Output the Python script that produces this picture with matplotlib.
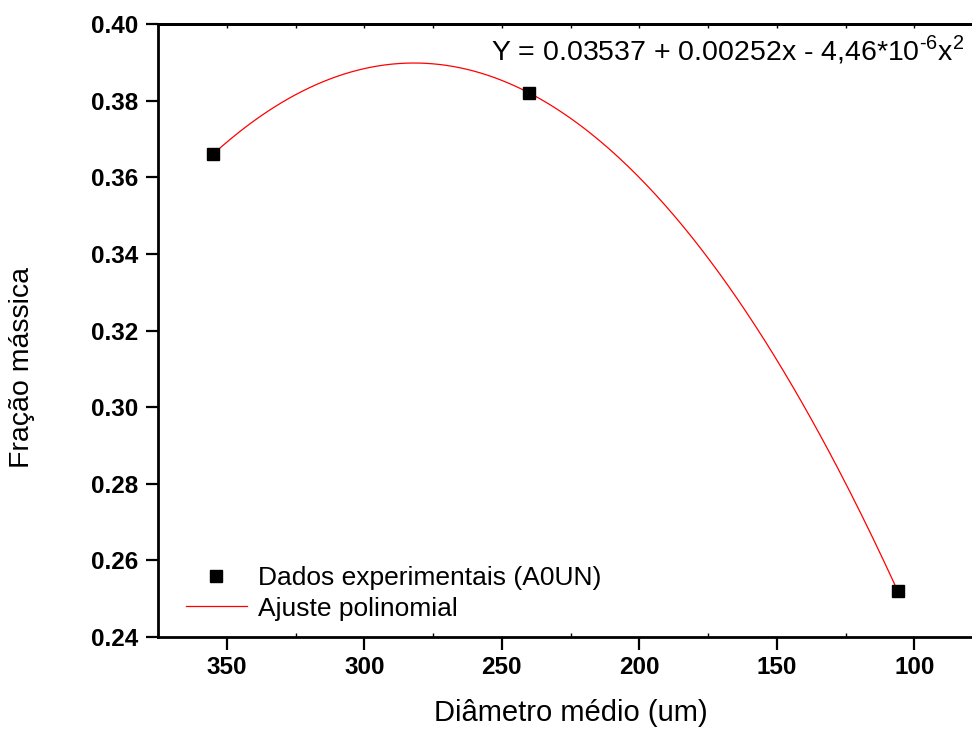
import numpy as np
import matplotlib
matplotlib.use("Agg")
from matplotlib import pyplot as plt
from matplotlib.ticker import MultipleLocator, NullFormatter

diametro = [355, 240, 106]
fracao = [0.366, 0.382, 0.252]
x_ticks = [350, 300, 250, 200, 150, 100]
y_ticks = [0.24, 0.26, 0.28, 0.30, 0.32, 0.34, 0.36, 0.38, 0.40]
equacao = r"Y = 0.03537 + 0.00252x - 4,46*10$^{\text{-6}}$x$^{\text{2}}$"

plt.rcParams['font.family'] = ['Liberation Sans', 'DejaVu Sans']
plt.rcParams['mathtext.fontset'] = 'custom'
plt.rcParams['mathtext.rm'] = 'Liberation Sans'

fig = plt.figure(figsize=(9.72, 7.29), dpi=100)
# right edge of the axes falls outside the figure, like the original
ax = fig.add_axes([158 / 972, 1 - 637 / 729, 825 / 972, 613 / 729])

# polynomial fit through the experimental points
coef = np.polyfit(diametro, fracao, 2)
xs = np.linspace(max(diametro), min(diametro), 300)
ax.plot(diametro, fracao, 's', color='black', markersize=9, label='Dados experimentais (A0UN)', zorder=3)
ax.plot(xs, np.polyval(coef, xs), '-', color='red', linewidth=0.9, label='Ajuste polinomial')

ax.set_xlim(375, 75)
ax.set_ylim(0.24, 0.40)
ax.set_xticks(x_ticks)
ax.set_yticks(y_ticks)
ax.set_yticklabels(['%.2f' % v for v in y_ticks])
ax.xaxis.set_minor_locator(MultipleLocator(25))

for s in ax.spines.values():
    s.set_linewidth(2)
ax.tick_params(which='major', direction='out', length=9, width=1.6, labelsize=17.5, pad=5)
ax.tick_params(axis='x', which='minor', direction='in', length=3, width=1.0)
for lab in ax.get_xticklabels() + ax.get_yticklabels():
    lab.set_fontweight('bold')

# short inward ticks along the top spine
top = ax.secondary_xaxis('top')
top.set_xticks(np.arange(375, 74, -25))
top.xaxis.set_major_formatter(NullFormatter())
top.tick_params(direction='in', length=3, width=1.0)
top.spines['top'].set_linewidth(2)

ax.set_xlabel('Diâmetro médio (um)', fontsize=21, labelpad=14)
ax.set_ylabel('Fração mássica', fontsize=20.5)
ax.yaxis.set_label_coords(-0.149, 0.44)

ax.text(0.404, 0.985, equacao, transform=ax.transAxes, fontsize=20.5, va='top', ha='left')

ax.legend(loc='lower left', bbox_to_anchor=(0.005, -0.012), frameon=False, fontsize=19,
          handlelength=2.3, handletextpad=0.45, labelspacing=0.25)

plt.savefig('out.png', dpi=100)
